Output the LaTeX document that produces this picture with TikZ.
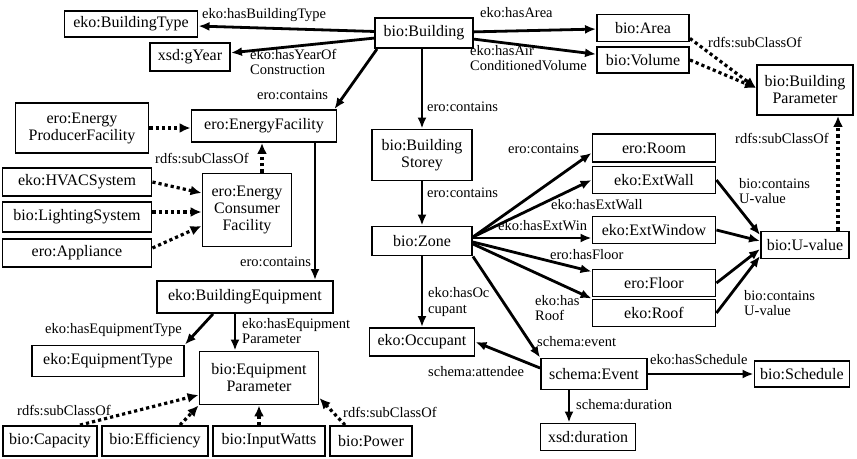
\documentclass[tikz,border=0pt]{standalone}
\usepackage{fontspec}
\setmainfont{Liberation Serif}
\usetikzlibrary{arrows.meta}

\begin{document}
\begin{tikzpicture}[x=1pt, y=-1pt,
    cls/.style={draw, line width=1.9pt, align=center, inner sep=1pt,
                font=\fontsize{16}{17}\selectfont},
    rel/.style={-{Latex[length=11pt,width=9pt]}, line width=2.8pt},
    sub/.style={-{Latex[length=11pt,width=10pt]}, line width=3.2pt,
                dash pattern=on 3.2pt off 3pt},
    lbl/.style={font=\fontsize{14.5}{15.5}\selectfont, inner sep=0pt,
                align=left, anchor=west}
  ]
    \useasboundingbox (0,0) rectangle (857,458);

    % building level
    \node[cls, minimum width=133, minimum height=26] (btype) at (131,24) {eko:BuildingType};
    \node[cls, minimum width=80,  minimum height=28] (gyear) at (190,57) {xsd:gYear};
    \node[cls, minimum width=98,  minimum height=30] (bld)   at (424,33) {bio:Building};
    \node[cls, minimum width=92,  minimum height=27] (area)  at (643,28) {bio:Area};
    \node[cls, minimum width=92,  minimum height=26] (vol)   at (643,60) {bio:Volume};
    \node[cls, minimum width=96,  minimum height=50] (bpar)  at (805,90) {bio:Building\\Parameter};

    % energy facilities
    \node[cls, minimum width=133, minimum height=50] (prod)  at (82,128)  {ero:Energy\\ProducerFacility};
    \node[cls, minimum width=145, minimum height=32] (efac)  at (264,126) {ero:EnergyFacility};
    \node[cls, minimum width=149, minimum height=28] (hvac)  at (77,182)  {eko:HVACSystem};
    \node[cls, minimum width=149, minimum height=30] (light) at (77,217)  {bio:LightingSystem};
    \node[cls, minimum width=149, minimum height=28] (appl)  at (77,253)  {ero:Appliance};
    \node[cls, minimum width=89,  minimum height=73] (cons)  at (247,210) {ero:Energy\\Consumer\\Facility};

    % equipment
    \node[cls, minimum width=176, minimum height=32] (bequip) at (245,297) {eko:BuildingEquipment};
    \node[cls, minimum width=152, minimum height=31] (etype)  at (108,361) {eko:EquipmentType};
    \node[cls, minimum width=119, minimum height=53] (eparam) at (259,378) {bio:Equipment\\Parameter};
    \node[cls, minimum width=94,  minimum height=30] (cap)    at (50,441)  {bio:Capacity};
    \node[cls, minimum width=106, minimum height=30] (eff)    at (155,441) {bio:Efficiency};
    \node[cls, minimum width=112, minimum height=30] (inw)    at (269,441) {bio:InputWatts};
    \node[cls, minimum width=82,  minimum height=30] (pow)    at (371,441) {bio:Power};

    % storey, zone and elements
    \node[cls, minimum width=100, minimum height=51] (storey) at (422,155) {bio:Building\\Storey};
    \node[cls, minimum width=100, minimum height=29] (zone)   at (422,241) {bio:Zone};
    \node[cls, minimum width=123, minimum height=28] (room)   at (654,148) {ero:Room};
    \node[cls, minimum width=123, minimum height=27] (wall)   at (654,180) {eko:ExtWall};
    \node[cls, minimum width=123, minimum height=27] (win)    at (654,230) {eko:ExtWindow};
    \node[cls, minimum width=123, minimum height=27] (floor)  at (654,283) {ero:Floor};
    \node[cls, minimum width=123, minimum height=27] (roof)   at (654,313) {eko:Roof};
    \node[cls, minimum width=88,  minimum height=27] (uval)   at (805,245) {bio:U-value};

    % occupancy
    \node[cls, minimum width=105, minimum height=28] (occ)   at (422,342) {eko:Occupant};
    \node[cls, minimum width=106, minimum height=31] (event) at (594,374) {schema:Event};
    \node[cls, minimum width=95,  minimum height=26] (sched) at (802,374) {bio:Schedule};
    \node[cls, minimum width=95,  minimum height=27] (dur)   at (588,437) {xsd:duration};

    % properties
    \draw[rel] (bld) -- (btype);
    \draw[rel] (bld) -- (gyear);
    \draw[rel] (bld) -- (area);
    \draw[rel] (bld) -- (vol);
    \draw[rel] ([xshift=3]bld.south west) -- ([xshift=-3]efac.north east);
    \draw[rel] (storey.north |- bld.south) -- (storey.north);
    \draw[rel] (storey) -- (zone);
    \draw[rel] ([xshift=51]efac.south) -- ([xshift=51]efac.south |- bequip.north);
    \draw[rel] ([xshift=-32]bequip.south) -- (etype.north east);
    \draw[rel] ([xshift=-10]bequip.south) -- ([xshift=-10]bequip.south |- eparam.north);

    \draw[rel] ([yshift=4]zone.east) -- ([yshift=10]room.south west);
    \draw[rel] ([yshift=4]zone.east) -- (wall.west);
    \draw[rel] ([yshift=3]zone.east) -- ([yshift=3]zone.east -| win.west);
    \draw[rel] ([yshift=-1]zone.east) -- ([yshift=-3]floor.north west);
    \draw[rel] ([yshift=-3]zone.east) -- (roof.north west);
    \draw[rel] (zone) -- (occ);
    \draw[rel] (zone.south east) -- (event.north west);

    \draw[rel] (wall.east)  -- ([yshift=10]uval.west);
    \draw[rel] (win.east)   -- ([yshift=4]uval.west);
    \draw[rel] (floor.east) -- ([yshift=-4]uval.west);
    \draw[rel] (roof.east)  -- ([yshift=-11]uval.west);

    \draw[rel] ([yshift=6]event.west) -- (occ.east);
    \draw[rel] (event) -- (sched);
    \draw[rel] ([xshift=-25]event.south) -- ([xshift=-25]event.south |- dur.north);

    % subclasses
    \draw[sub] ([yshift=4]area.south east) -- ([yshift=2]bpar.west);
    \draw[sub] (vol.east) -- ([yshift=2]bpar.west);
    \draw[sub] ([xshift=33]uval.north) -- ([xshift=33]uval.north |- bpar.south);
    \draw[sub] (prod.east) -- (prod.east -| efac.west);
    \draw[sub] ([xshift=15]cons.north) -- ([xshift=15]cons.north |- efac.south);
    \draw[sub] (hvac.east) -- ([yshift=17]cons.west);
    \draw[sub] ([yshift=5]light.east) -- ([yshift=5]light.east -| cons.west);
    \draw[sub] ([yshift=5]appl.east) -- ([yshift=-16]cons.west);
    \draw[sub] ([xshift=30]cap.north) -- ([yshift=-17]eparam.west);
    \draw[sub] ([xshift=25]eff.north) -- (eparam.south west);
    \draw[sub] (eparam.south |- inw.north) -- (eparam.south);
    \draw[sub] ([xshift=-26]pow.north) -- ([yshift=-20]eparam.east);

    % labels
    \node[lbl] (lbtype)  at (202,15)  {eko:hasBuildingType};
    \node[lbl] (lyear)   at (250,62)  {eko:hasYearOf\\Construction};
    \node[lbl] (lefac)   at (257,95)  {ero:contains};
    \node[lbl] (larea)   at (480,13)  {eko:hasArea};
    \node[lbl] (lvol)    at (470,58)  {eko:hasAir\\ConditionedVolume};
    \node[lbl] (lstorey) at (427,107) {ero:contains};
    \node[lbl] (lbpar)   at (708,42)  {rdfs:subClassOf};
    \node[lbl] (luval)   at (735,138) {rdfs:subClassOf};
    \node[lbl] (lcons)   at (155,158) {rdfs:subClassOf};
    \node[lbl] (lbequip) at (240,262) {ero:contains};
    \node[lbl] (lzone)   at (427,193) {ero:contains};
    \node[lbl] (lroom)   at (508,149) {ero:contains};
    \node[lbl] (lwall)   at (551,205) {eko:hasExtWall};
    \node[lbl] (lwin)    at (498,226) {eko:hasExtWin};
    \node[lbl] (lfloor)  at (550,255) {ero:hasFloor};
    \node[lbl] (lroof)   at (535,308) {eko:has\\Roof};
    \node[lbl] (locc)    at (428,302) {eko:hasOc\\cupant};
    \node[lbl] (levent)  at (537,342) {schema:event};
    \node[lbl] (latt)    at (428,372) {schema:attendee};
    \node[lbl] (lsched)  at (650,360) {eko:hasSchedule};
    \node[lbl] (ldur)    at (576,405) {schema:duration};
    \node[lbl] (lu1)     at (739,191) {bio:contains\\U-value};
    \node[lbl] (lu2)     at (744,303) {bio:contains\\U-value};
    \node[lbl] (letype)  at (45,330)  {eko:hasEquipmentType};
    \node[lbl] (lepar)   at (242,331) {eko:hasEquipment\\Parameter};
    \node[lbl] (lcap)    at (17,410)  {rdfs:subClassOf};
    \node[lbl] (lpow)    at (343,412) {rdfs:subClassOf};
\end{tikzpicture}
\end{document}
